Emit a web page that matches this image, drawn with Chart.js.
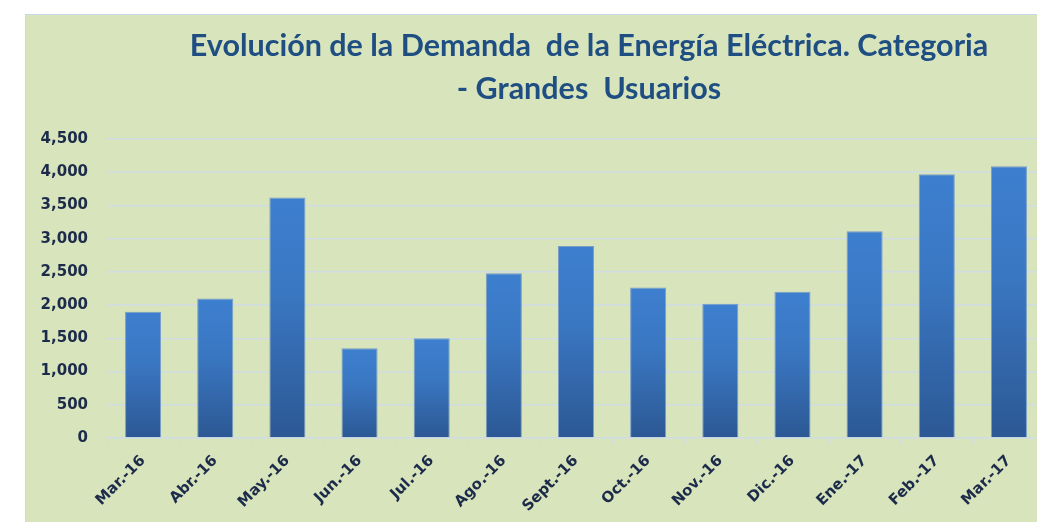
<!DOCTYPE html>
<html>
<head>
<meta charset="utf-8">
<script src="https://cdn.jsdelivr.net/npm/chart.js@4"></script>
<style>
  html, body { margin: 0; padding: 0; background: #ffffff; overflow: hidden; width: 1037px; height: 522px; }
  #panel {
    position: absolute; left: 25px; top: 14px; width: 1126px; height: 508px;
    background: #D8E4BC; border-left: 1px solid #C8D8E8; border-top: 1px solid #C8D8E8;
  }
  canvas { display: block; }
</style>
</head>
<body>
<div id="panel"><canvas id="demandChart" width="1126" height="508"></canvas></div>
<script>
const months = ['Mar.-16', 'Abr.-16', 'May.-16', 'Jun.-16', 'Jul.-16', 'Ago.-16', 'Sept.-16',
                'Oct.-16', 'Nov.-16', 'Dic.-16', 'Ene.-17', 'Feb.-17', 'Mar.-17'];
const demand = [1900, 2100, 3620, 1350, 1500, 2480, 2890, 2265, 2020, 2200, 3110, 3970, 4090];
const yTicks = [0, 500, 1000, 1500, 2000, 2500, 3000, 3500, 4000, 4500];

const textColor = '#1c2b4a';
const gridColor = '#cfdde3';

// each bar gets its own light-to-dark gradient
function barGradient(context) {
    const chart = context.chart;
    if (!chart.chartArea || context.type !== 'data') return '#3570b8';
    const y = chart.scales.y;
    const top = y.getPixelForValue(context.raw);
    const bottom = y.getPixelForValue(0);
    const g = chart.ctx.createLinearGradient(0, top, 0, bottom);
    g.addColorStop(0, '#3d7fcf');
    g.addColorStop(0.4, '#3a77c2');
    g.addColorStop(1, '#2c5894');
    return g;
}

const ctx = document.getElementById('demandChart').getContext('2d');
new Chart(ctx, {
    type: 'bar',
    data: {
        labels: months,
        datasets: [{
            label: 'Demanda',
            data: demand,
            backgroundColor: barGradient,
            borderColor: 'rgba(110,150,200,0.9)',
            borderWidth: 1,
            barPercentage: 0.5,
            categoryPercentage: 1.0
        }]
    },
    options: {
        responsive: false,
        animation: false,
        layout: { padding: 0 },
        plugins: {
            legend: { display: false },
            tooltip: { enabled: false },
            title: {
                display: true,
                text: ['Evolución de la Demanda  de la Energía Eléctrica. Categoria', '- Grandes  Usuarios'],
                color: '#1f4e82',
                font: { family: 'Lato', size: 30.5, weight: 'bold', lineHeight: 1.41 },
                padding: { top: 10, bottom: 28 }
            }
        },
        scales: {
            x: {
                grid: { display: true, drawOnChartArea: false, color: gridColor, tickLength: 6, offset: true },
                border: { color: gridColor, width: 1.5 },
                ticks: {
                    color: textColor,
                    font: { family: 'DejaVu Sans', size: 15, weight: 'bold' },
                    minRotation: 45, maxRotation: 45,
                    padding: 8
                },
                afterFit: function (scale) { scale.height = 85; }
            },
            y: {
                min: 0,
                max: 4500,
                afterBuildTicks: function (scale) { scale.ticks = yTicks.map(v => ({ value: v })); },
                grid: { color: gridColor, lineWidth: 1.5, drawTicks: false },
                border: { display: false },
                ticks: {
                    color: textColor,
                    font: { family: 'DejaVu Sans', size: 15, weight: 'bold' },
                    padding: 19,
                    callback: v => v.toLocaleString('en-US')
                },
                afterFit: function (scale) { scale.width = 81; }
            },
            // empty right-hand axis: keeps the plot off the right side so the title stays centred
            spacer: {
                position: 'right',
                display: true,
                grid: { display: false },
                border: { display: false },
                ticks: { display: false },
                afterFit: function (scale) { scale.width = 107; }
            }
        }
    }
});
</script>
</body>
</html>
